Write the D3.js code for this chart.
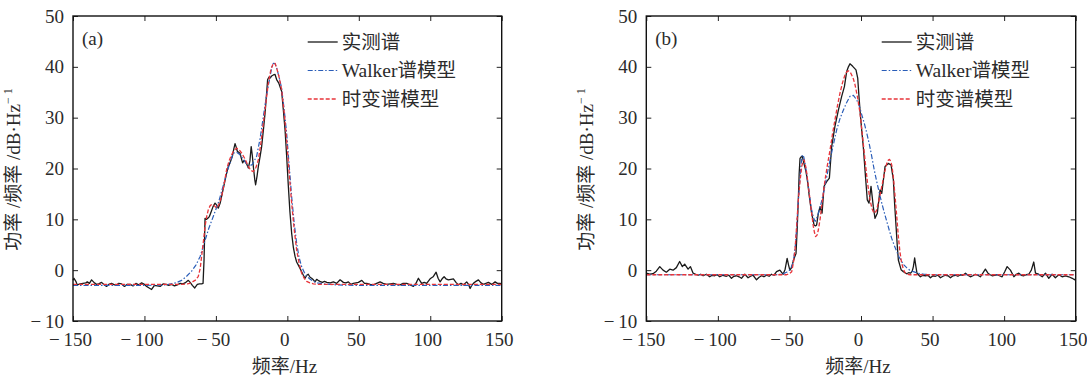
<!DOCTYPE html>
<html>
<head>
<meta charset="utf-8">
<script src="https://cdn.jsdelivr.net/npm/d3@7"></script>
<style>
  body { margin: 0; background: #fff; }
  svg { display: block; }
</style>
</head>
<body>
<svg id="chart" width="1087" height="378"></svg>
<script>
// axis ticks
const ticksX = [-150, -100, -50, 0, 50, 100, 150];
const ticksY = [-10, 0, 10, 20, 30, 40, 50];
const legendNames = ["实测谱", "Walker谱模型", "时变谱模型"];

// panel (a) - [frequency Hz, power dB]
const measA = [
  [-150,-2.0],[-149.3,-1.6],[-148,-2.2],[-147,-2.9],[-145,-2.7],[-143,-2.6],[-141,-2.5],[-140,-2.3],
  [-138.5,-2.6],[-137,-1.9],[-135,-2.5],[-133.5,-2.8],[-132,-2.7],[-130,-2.4],[-128,-2.9],[-126.5,-3.2],
  [-125,-2.8],[-123,-2.6],[-121,-2.9],[-119.5,-2.9],[-118,-2.6],[-116,-2.7],[-114,-3.2],[-112,-2.8],
  [-110,-2.8],[-108,-3.1],[-106,-2.6],[-104,-2.9],[-102,-2.5],[-100,-2.8],[-98.5,-3.2],[-97.3,-3.4],
  [-95,-3.8],[-93,-3.0],[-91,-3.1],[-89,-3.2],[-87,-2.7],[-85,-2.8],[-83,-3.0],[-81,-2.8],[-79,-3.1],
  [-77,-2.9],[-75,-2.6],[-73,-2.7],[-71,-2.4],[-69.3,-2.0],[-68,-2.4],[-66.5,-3.0],[-64.8,-3.5],
  [-63,-2.8],[-61.5,-2.7],[-60,-2.7],[-59,-2.6],[-58.3,2.0],[-57.6,10.2],[-56.5,10.0],[-55.3,10.3],
  [-54.5,10.6],[-53.7,11.2],[-52,12.5],[-50.6,13.2],[-49.4,12.8],[-48.3,12.2],[-47,13.2],[-46,14.5],
  [-44.5,16.5],[-42.5,19.1],[-41.2,20.5],[-40.1,21.1],[-38.5,22.4],[-37.5,23.8],[-36.6,24.9],
  [-35.8,24.2],[-35,23.4],[-33.1,23.0],[-32,21.8],[-31.3,21.1],[-30.3,21.6],[-29.6,21.4],[-28.3,20.8],
  [-27.3,20.1],[-26.2,21.5],[-25.3,24.3],[-24.5,22.5],[-23.8,20.4],[-22.8,17.8],[-22.2,16.8],
  [-21.2,18.5],[-20.3,20.4],[-19,22.5],[-18,24.3],[-16.8,27.5],[-15.6,30.9],[-14.6,34.5],[-13.8,37.5],
  [-12.8,38.0],[-12.1,37.8],[-11,38.2],[-9.8,38.4],[-8.6,38.5],[-7.5,37.5],[-6,36.8],[-5,36.0],
  [-4,35.2],[-2.8,31.5],[-1.6,27.6],[-0.5,22.5],[0.7,16.5],[1.8,11.5],[3.0,7.3],[4.2,4.5],[5.4,2.7],
  [6.5,1.6],[7.7,1.0],[8.8,0.4],[10,-0.3],[11.2,-1.0],[12.4,-1.6],[13.6,-1.0],[14.6,-0.8],[15.9,-1.4],
  [17,-1.6],[18.2,-1.9],[19.4,-2.3],[20.5,-1.8],[21.5,-2.0],[22.8,-2.2],[24.5,-2.4],[26,-2.2],
  [27.6,-2.4],[30,-2.5],[32.2,-2.3],[34.5,-2.6],[36.9,-1.9],[39.2,-2.4],[41,-2.5],[42.7,-2.3],
  [44.5,-2.8],[46.2,-2.6],[48,-2.5],[49.7,-2.4],[52.1,-2.0],[54,-2.6],[55.6,-2.6],[58,-2.8],
  [60.2,-2.9],[62.5,-2.6],[64.9,-2.3],[67,-2.6],[69.5,-2.8],[72,-2.7],[74.2,-2.6],[76.5,-2.8],
  [78.9,-2.9],[81,-2.6],[83.5,-2.6],[86,-2.9],[88.2,-3.2],[90,-2.6],[91.7,-1.6],[94.0,-2.6],
  [95.8,-2.4],[97.5,-2.6],[99.9,-1.7],[102,-1.3],[104.1,-0.4],[105.5,-1.6],[106.9,-2.3],[108.3,-1.7],
  [109.7,-1.3],[111,-1.7],[112.7,-1.9],[114.5,-1.8],[116.2,-1.7],[118,-2.4],[119.7,-2.9],[121.5,-2.6],
  [123.2,-2.9],[125.5,-2.3],[126.8,-2.8],[127.9,-3.6],[129,-3.0],[130.2,-2.6],[132,-2.2],[133.7,-1.9],
  [135.5,-2.5],[137.2,-2.8],[139,-2.6],[140.7,-2.4],[143.0,-2.8],[145.4,-2.3],[147,-2.6],[148.9,-2.6],
  [150,-2.7]
];
const walkerA = [
  [-150,-3.0],[-100,-3.0],[-85,-2.9],[-78,-2.5],[-74,-2.0],[-70.5,-1.2],[-67,-0.2],[-64,1.0],
  [-61,2.7],[-58,5.5],[-55,8.2],[-51.8,10.6],[-48,13.5],[-45,16.5],[-42.5,19.1],[-40,21.2],
  [-37.8,23.0],[-35.5,23.2],[-33.1,22.7],[-30,21.5],[-27.3,20.4],[-24.5,20.8],[-21.5,22.4],
  [-19,26.0],[-16.8,30.2],[-14.5,34.5],[-12.1,38.1],[-10.8,40.0],[-9.8,40.7],[-8.6,40.6],[-7.5,39.8],
  [-5.8,38.0],[-4,35.8],[-2.2,31.5],[-0.5,27.0],[1.3,20.5],[3.0,14.5],[4.8,9.2],[6.5,5.3],[8.2,2.5],
  [10,0.7],[11.8,-0.4],[13.5,-1.2],[16,-1.8],[18.2,-2.2],[21,-2.5],[25.2,-2.7],[35,-2.9],[50,-3.0],
  [150,-3.0]
];
const tvA = [
  [-150,-2.8],[-75,-2.8],[-70,-2.7],[-67,-2.5],[-65.8,-2.2],[-64,-1.9],[-62.3,-1.2],[-61,0.3],
  [-60,2.7],[-58.8,5.5],[-57.6,8.6],[-56.5,10.5],[-55.3,11.9],[-54,12.7],[-53,12.9],[-51.5,12.8],
  [-49.5,12.2],[-47.8,13.0],[-46,14.5],[-44.2,17.0],[-42.5,19.8],[-40.8,21.5],[-39,22.7],[-37.2,23.6],
  [-35.5,24.0],[-33.7,23.7],[-31.9,23.0],[-29.5,21.8],[-27.3,20.4],[-25.5,19.6],[-23.8,19.4],
  [-22,20.2],[-20.3,21.7],[-18.5,25.0],[-16.8,28.9],[-15,33.0],[-13.3,36.8],[-11.5,39.5],[-9.8,40.7],
  [-8.6,40.7],[-7.5,39.8],[-5.8,38.0],[-4,35.5],[-2.2,31.0],[-0.5,25.7],[1.3,19.0],[3,13.2],[4.8,8.0],
  [6.5,4.0],[8.2,1.4],[10,-0.6],[11.8,-1.6],[13.5,-2.2],[15.8,-2.5],[18.2,-2.7],[22,-2.8],[150,-2.8]
];

// panel (b)
const measB = [
  [-150,-0.6],[-147.6,-0.8],[-145.3,-0.7],[-143,-0.2],[-140.6,0.7],[-138.3,0.0],[-136,-0.4],
  [-133.6,0.2],[-131.3,0.0],[-129,0.5],[-126.7,1.7],[-124.8,0.7],[-123.2,1.2],[-120.8,0.2],
  [-119.2,0.7],[-117.3,-0.6],[-115.5,-0.8],[-113.8,-1.0],[-112,-0.8],[-110.3,-1.1],[-108,-0.8],
  [-105.7,-1.3],[-104,-1.0],[-102.2,-1.1],[-100.5,-0.9],[-98.7,-1.3],[-96.5,-1.0],[-94,-1.2],
  [-92.3,-1.0],[-90.5,-1.6],[-88.8,-1.2],[-87,-1.1],[-85.2,-1.3],[-83.5,-1.6],[-81.2,-0.8],
  [-78.9,-1.5],[-77.2,-1.2],[-75.4,-1.0],[-73,-1.9],[-71.2,-1.4],[-69.5,-1.1],[-67.8,-1.3],
  [-66,-1.0],[-64.2,-1.2],[-62.5,-0.8],[-60.8,-1.0],[-59,-0.3],[-56.7,0.0],[-54.4,-0.8],[-53,0.2],
  [-51.6,2.3],[-50.6,1.0],[-49.7,0.0],[-48.5,0.5],[-47.7,1.4],[-46.5,2.5],[-45.4,3.3],[-44.6,8.0],
  [-43.8,13.8],[-43.2,19.0],[-42.6,22.0],[-41.8,22.3],[-41,22.4],[-40.3,21.5],[-39.6,20.7],
  [-38.5,19.5],[-37.5,17.8],[-36.1,14.5],[-34.5,11.2],[-32.8,8.9],[-31.8,8.7],[-31,8.9],[-29.8,11.2],
  [-28.6,12.5],[-27.2,11.2],[-25.8,16.5],[-24,17.4],[-22.1,18.1],[-20.5,24.3],[-18.2,28.3],
  [-15.8,31.5],[-13.5,34.2],[-11.6,36.1],[-10,39.1],[-8.8,40.0],[-7.7,40.6],[-5.8,40.1],[-3.5,39.4],
  [-2.3,37.8],[-1.5,34.5],[-0.7,31.5],[0.5,27.5],[1.6,24.3],[3.3,17.8],[4.4,13.8],[5.6,13.2],
  [7.0,16.5],[8.6,12.5],[9.8,10.2],[11.4,11.2],[13.3,15.8],[14.5,15.1],[16.8,20.4],[19.1,21.0],
  [21.0,20.7],[22.6,17.8],[23.5,13.0],[24.5,8.6],[25.3,5.0],[26.1,2.0],[28.0,0.1],[29.6,-0.3],
  [31.9,-0.7],[33.3,-0.5],[34.7,-0.6],[35.8,-0.2],[36.6,0.7],[37.5,2.4],[38.2,1.0],[39.1,-0.6],
  [41.5,-1.3],[43.2,-1.0],[45,-1.1],[46.8,-1.0],[48.5,-1.5],[50.3,-1.1],[52,-1.2],[53.8,-1.0],
  [55.5,-1.5],[57.3,-1.2],[59,-1.0],[60.8,-1.1],[62.5,-1.5],[64.3,-1.1],[66,-1.0],[67.7,-1.2],
  [69.5,-0.9],[71.2,-1.0],[73,-0.6],[74.7,-1.0],[76.4,-1.3],[78.2,-1.1],[79.9,-0.8],[81.6,-1.0],
  [83.4,-1.3],[85.1,-0.6],[86.9,0.2],[88.7,-0.6],[90.2,-0.9],[91.6,-1.1],[93.3,-1.0],[95,-0.9],
  [96.7,-1.1],[98.6,-1.3],[100.4,-0.3],[102.1,0.7],[104.4,0.0],[106.8,-1.3],[108.5,-0.8],[110.3,-0.6],
  [112,-1.0],[113.8,-1.1],[115.5,-0.9],[117.2,-0.8],[119,0.0],[120.7,1.6],[121.9,-0.6],[124.1,-0.8],
  [126.6,-1.3],[128.9,-0.6],[131.2,-1.6],[133.5,-0.8],[135.8,-1.5],[138.2,-0.9],[140.5,-1.3],
  [142.9,-1.1],[145.2,-1.3],[147.6,-1.6],[149.2,-1.9],[150,-1.7]
];
const walkerB = [
  [-150,-0.9],[-60,-0.9],[-56,-0.8],[-54.3,-0.7],[-52,-0.4],[-49.6,0.1],[-48,1.0],[-46.8,2.7],
  [-45.8,5.0],[-44.9,8.6],[-43.8,13.5],[-42.6,18.4],[-41.8,21.0],[-41,22.7],[-40,22.3],[-39.1,21.0],
  [-38,19.0],[-36.8,16.5],[-35.6,14.0],[-34.5,11.9],[-33.3,10.4],[-32.1,9.6],[-31,10.2],[-29.8,11.2],
  [-28,13.0],[-26.3,15.1],[-24,18.3],[-21.6,21.7],[-19.3,24.7],[-17.0,27.6],[-14.7,29.8],[-12.3,31.5],
  [-10,33.0],[-7.7,34.2],[-5.3,34.4],[-3.0,33.5],[-1.2,32.3],[0.5,30.6],[2.3,28.9],[4.0,27.0],
  [5.8,24.8],[7.5,22.4],[9.2,19.8],[11.0,17.4],[12.8,15.2],[14.5,13.2],[16.3,11.3],[18.0,9.6],
  [19.7,7.9],[21.4,6.3],[23.2,4.9],[24.9,3.7],[26.6,2.6],[28.4,1.7],[30.1,1.0],[31.9,0.5],[34,0.0],
  [36.6,-0.3],[38.9,-0.5],[41.2,-0.7],[44,-0.8],[48.2,-0.9],[150,-0.9]
];
const tvB = [
  [-150,-0.9],[-55,-0.9],[-52,-0.9],[-50,-0.7],[-48.4,-0.3],[-47.2,1.5],[-46.1,4.0],[-45,8.5],
  [-43.8,13.8],[-42.6,17.5],[-41.4,20.4],[-40.6,21.3],[-39.8,21.7],[-38.9,20.8],[-37.9,19.1],
  [-36.8,16.5],[-35.6,13.8],[-34.4,11.0],[-33.3,8.6],[-32.5,7.4],[-31.7,6.6],[-30.7,6.9],[-29.8,7.9],
  [-28.6,10.0],[-27.5,12.5],[-26.3,15.2],[-25.1,17.8],[-23.4,20.8],[-21.6,23.7],[-19.9,26.8],
  [-18.2,29.6],[-16.4,32.4],[-14.7,34.8],[-12.9,36.9],[-11.2,38.4],[-10,39.0],[-8.8,39.2],[-7.6,39.0],
  [-6.5,38.4],[-5.3,37.6],[-4.2,36.5],[-2.4,34.0],[-0.7,30.9],[1.0,26.5],[2.8,21.7],[4.5,17.3],
  [6.3,13.8],[7.7,12.1],[9.1,11.2],[10.6,11.6],[12.1,13.2],[13.6,15.2],[15.2,17.4],[16.6,19.4],
  [18,21.0],[19.0,21.6],[19.9,21.8],[20.8,21.4],[21.7,20.4],[22.8,17.8],[23.8,14.5],[25.0,10.5],
  [26.1,6.6],[27.2,3.6],[28.4,1.4],[29.6,0.2],[30.8,-0.5],[32.5,-0.8],[34.3,-0.9],[150,-0.9]
];

const serif = "'Liberation Serif', 'Noto Sans CJK SC', serif";
const txtColor = "#2b2b2b";

const svg = d3.select("#chart");

const styles = [
  { color: "#1a1a1a", dash: null, width: 1.3 },          // measured
  { color: "#2a5db8", dash: "5,2,1.5,2", width: 1.2 },   // walker
  { color: "#e8343a", dash: "4,2", width: 1.3 }          // time-varying
];

function fmt(d) {
  return d < 0 ? "\u2212\u2009" + Math.abs(d) : String(d);
}

function drawPanel(left, right, tag, series) {
  const top = 16, bottom = 321;
  const x = d3.scaleLinear().domain([-150, 150]).range([left, right]);
  const y = d3.scaleLinear().domain([-10, 50]).range([bottom, top]);
  const g = svg.append("g");

  // axes with inward ticks on all sides
  const axB = g.append("g").attr("transform", `translate(0,${bottom})`)
    .call(d3.axisBottom(x).tickValues(ticksX).tickSize(-5).tickPadding(12).tickFormat(fmt));
  const axT = g.append("g").attr("transform", `translate(0,${top})`)
    .call(d3.axisTop(x).tickValues(ticksX).tickSize(-5).tickFormat(""));
  const axL = g.append("g").attr("transform", `translate(${left},0)`)
    .call(d3.axisLeft(y).tickValues(ticksY).tickSize(-5).tickPadding(9).tickFormat(fmt));
  const axR = g.append("g").attr("transform", `translate(${right},0)`)
    .call(d3.axisRight(y).tickValues(ticksY).tickSize(-5).tickFormat(""));
  [axB, axT, axL, axR].forEach(a => {
    a.select(".domain").remove();
    a.selectAll(".tick line").attr("stroke", "#222").attr("stroke-width", 1);
    a.selectAll("text").attr("font-family", serif).attr("font-size", 19).attr("fill", txtColor);
  });
  axB.selectAll("text").attr("dy", "0.71em").attr("dx", -3);

  // lines
  const line = d3.line().x(d => x(d[0])).y(d => y(d[1]));
  series.forEach((s, i) => {
    g.append("path")
      .datum(s)
      .attr("fill", "none")
      .attr("stroke", styles[i].color)
      .attr("stroke-width", styles[i].width)
      .attr("stroke-dasharray", styles[i].dash)
      .attr("stroke-linejoin", "round")
      .attr("d", line);
  });

  // frame
  g.append("rect")
    .attr("x", left).attr("y", top)
    .attr("width", right - left).attr("height", bottom - top)
    .attr("fill", "none").attr("stroke", "#111").attr("stroke-width", 1.4);

  // panel tag
  g.append("text")
    .attr("x", left + 9).attr("y", 45)
    .attr("font-family", serif).attr("font-size", 19).attr("fill", txtColor)
    .text(tag);

  // legend
  const lx = right - 194;
  legendNames.forEach((name, i) => {
    const ly = 42 + i * 28.5;
    g.append("line")
      .attr("x1", lx).attr("x2", lx + 30).attr("y1", ly).attr("y2", ly)
      .attr("stroke", styles[i].color)
      .attr("stroke-width", styles[i].width)
      .attr("stroke-dasharray", styles[i].dash);
    g.append("text")
      .attr("x", lx + 34).attr("y", ly + 6.5)
      .attr("font-family", serif).attr("font-size", 19.5).attr("fill", txtColor)
      .text(name);
  });

  // y label
  const yl = g.append("text")
    .attr("transform", `translate(${left - 53},${(top + bottom) / 2 + 1}) rotate(-90)`)
    .attr("text-anchor", "middle")
    .attr("font-family", serif).attr("font-size", 19).attr("fill", txtColor);
  yl.append("tspan").text("功率 /频率 /dB·Hz");
  yl.append("tspan").attr("font-size", 12).attr("dy", -8).text("\u2212 1");

  // x label
  g.append("text")
    .attr("x", (left + right) / 2 - 3).attr("y", 373)
    .attr("text-anchor", "middle")
    .attr("font-family", serif).attr("font-size", 19).attr("fill", txtColor)
    .text("频率/Hz");
}

drawPanel(73, 501.7, "(a)", [measA, walkerA, tvA]);
drawPanel(646.3, 1075.7, "(b)", [measB, walkerB, tvB]);
</script>
</body>
</html>
